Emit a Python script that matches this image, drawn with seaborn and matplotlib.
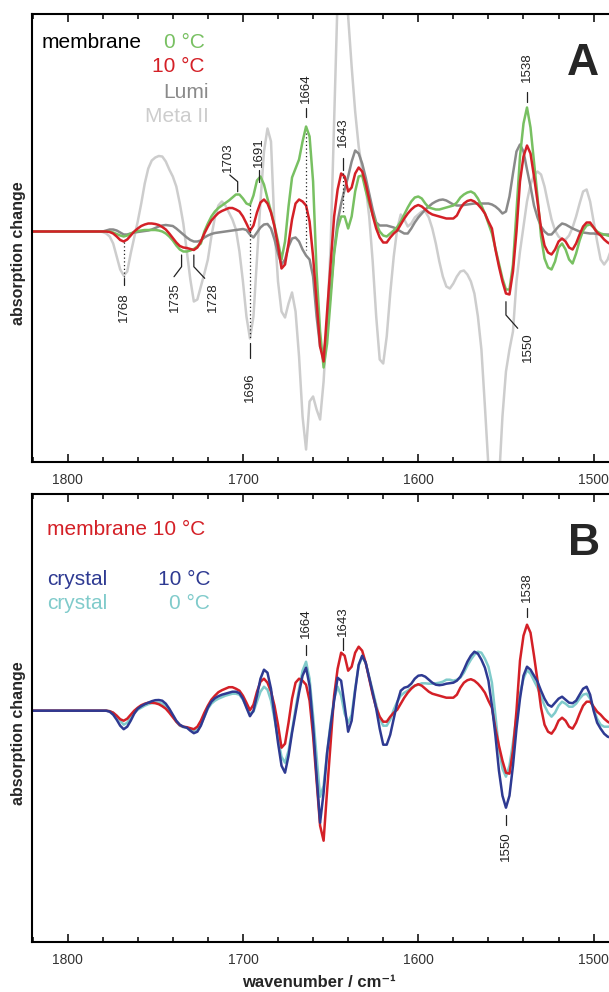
import numpy as np
import pandas as pd
import seaborn as sns
import matplotlib
matplotlib.use("Agg")
import matplotlib.pyplot as plt
from matplotlib.ticker import MultipleLocator

# wavenumber grid (cm-1), one value every 2 cm-1
wavenumber = np.arange(1820, 1489, -2)

membrane_10C = [
    0, 0, 0, 0, 0, 0, 0, 0, 0, 0,
    0, 0, 0, 0, 0, 0, 0, 0, 0, 0,
    0, 0, -0.5, -2, -5, -8.5, -10, -8, -4, 0,
    3, 5.5, 7, 8, 8, 7.5, 6.5, 4.5, 2, -2,
    -6.5, -11, -14.5, -16, -16.5, -17.5, -18.5, -16, -10, -2,
    5, 11, 15, 18.5, 20.5, 22, 23.5, 23.5, 22, 20,
    15, 8, 0.5, 6, 19, 29, 32, 28, 19, 5,
    -14, -37, -33, -12, 12, 28, 32, 30, 26, 10,
    -25, -70, -115, -130, -80, -32, 15, 42, 58, 55,
    40, 44, 58, 64, 60, 48, 32, 16, 3, -6,
    -11, -11, -6, -2, 1, 7, 13, 18, 22, 25,
    26.5, 25, 22, 19, 17, 16, 15, 14, 13, 13,
    13, 16, 23, 28, 30.5, 31.5, 30, 27, 23, 18,
    10, 3, -18, -35, -50, -62, -63, -40, 0, 50,
    75, 86, 78, 55, 30, 3, -14, -21, -23, -18,
    -10, -7, -10, -16, -18, -12, -3, 5, 9, 9,
    4, -1, -4, -8, -11, -13,
]

membrane_0C = [
    0, 0, 0, 0, 0, 0, 0, 0, 0, 0,
    0, 0, 0, 0, 0, 0, 0, 0, 0, 0,
    0, 0, 0, -1, -2.5, -4, -5, -4, -2, -0.5,
    0.5, 1, 1.5, 1.5, 1.5, 1.5, 1, 0, -2, -5,
    -9, -14, -18, -20, -20, -19, -17.5, -15, -12, 0,
    8, 15, 20, 23.5, 26, 28.5, 31, 34, 37, 37,
    33, 28, 26.5, 36, 51, 55, 47, 33, 20, 6,
    -10, -28, -10, 25, 54, 63, 72, 90, 105, 95,
    50, -40, -100, -136, -112, -68, -22, 3, 15, 15,
    3, 15, 40, 55, 56, 41, 28, 17, 8, 0,
    -4, -5, -2, 1, 4.5, 10, 17, 24, 30, 34,
    35, 33, 28, 24, 23, 22, 22, 23, 24, 25,
    26, 29, 34, 37, 39, 40, 38, 33, 26, 18,
    8, -2, -17, -32, -47, -58, -58, -33, 20, 75,
    108, 124, 104, 70, 35, -5, -27, -36, -38, -30,
    -16, -12, -18, -28, -32, -22, -9, 1, 6, 7,
    4, 0, -2, -3, -4, -5,
]

lumi = [
    0, 0, 0, 0, 0, 0, 0, 0, 0, 0,
    0, 0, 0, 0, 0, 0, 0, 0, 0, 0,
    0, 1, 2, 2, 1, -1, -3, -3, -2, -1,
    -0.5, 0, 0.5, 1, 2, 3.5, 5, 6, 6.5, 6,
    5.5, 3, 0, -3, -6, -8.5, -10, -10, -9, -6,
    -4, -2.5, -1.5, -1, -0.5, 0, 0.5, 1, 1.5, 2,
    2.5, 1.5, -3, -6, -1, 4, 7, 7.5, 3, -8,
    -22, -33, -28, -15, -7, -6, -10, -18, -24, -28,
    -45, -85, -115, -122, -100, -60, -20, 10, 28, 42,
    55, 70, 81, 78, 68, 54, 38, 22, 9, 6,
    6, 6, 5, 4, 2, 0, -2, -2, 3, 9,
    14, 18, 22, 25, 28, 30, 31.5, 32, 31, 29,
    27, 26, 26, 26.5, 27, 27.5, 28, 28, 28, 28,
    28, 27, 25, 22, 18, 20, 35, 58, 80, 87,
    80, 62, 45, 26, 14, 5, 0, -3, -3, 1,
    5, 8, 7, 5, 3, 1.5, 0, -1, -1.5, -2,
    -2, -2.5, -3, -3, -3, -3,
]

meta_ii = [
    0, 0, 0, 0, 0, 0, 0, 0, 0, 0,
    0, 0, 0, 0, 0, 0, 0, 0, 0, 0,
    -0.5, -2, -5, -12, -25, -38, -44, -40, -22, -6,
    10, 28, 48, 63, 71, 74, 75.5, 75, 70, 62,
    55, 45, 28, 8, -20, -48, -70, -68, -55, -42,
    -28, -5, 14, 26, 30, 26, 19, 12, 2, -20,
    -50, -85, -107, -85, -28, 30, 80, 103, 90, 5,
    -50, -80, -86, -72, -61, -80, -125, -185, -218, -170,
    -165, -178, -188, -150, -90, -15, 110, 235, 270, 255,
    215, 165, 120, 85, 62, 45, 15, -30, -85, -128,
    -132, -105, -62, -25, 3, 17, 12, 5, 8, 14,
    17, 20, 20, 14, 3, -12, -30, -45, -55, -57,
    -52, -45, -40, -39, -43, -50, -62, -85, -118, -175,
    -235, -265, -275, -250, -185, -140, -118, -100, -50, -20,
    5, 30, 47, 56, 60, 57, 45, 28, 12, 1,
    -5, -8, -8, -4, 4, 15, 28, 40, 42, 30,
    10, -10, -28, -33, -28, -18,
]

crystal_10C = [
    0, 0, 0, 0, 0, 0, 0, 0, 0, 0,
    0, 0, 0, 0, 0, 0, 0, 0, 0, 0,
    0, 0, -1, -4, -9, -15, -18.5, -16, -10, -3,
    2, 4.5, 6.5, 8, 9.5, 10.5, 10.7, 10, 7, 2,
    -4, -10, -14, -16, -17, -20, -22.5, -21, -15, -6,
    3, 9, 12.5, 14.5, 16, 17, 18, 19, 19, 17.5,
    12, 3, -5.5, 0, 15, 32, 41, 38, 22, -5,
    -32, -55, -62, -45, -22, -2, 18, 35, 43, 25,
    -15, -65, -112, -82, -42, -15, 10, 33, 30, 5,
    -21, -10, 20, 46, 55, 48, 33, 18, 2, -18,
    -34, -34, -24, -8, 8, 20, 23, 24, 27, 32,
    35, 35.5, 34, 31, 28, 26, 25.5, 26, 27, 27.5,
    28, 30, 34, 41, 49, 55, 59, 57, 51, 43,
    30, 5, -25, -60, -85, -97, -85, -55, -18, 12,
    35, 44, 41, 35, 29, 20, 12, 6, 4, 8,
    12, 14, 11, 8, 7.5, 10, 16, 22, 24, 16,
    0, -12, -18, -23, -26, -27,
]

crystal_0C = [
    0, 0, 0, 0, 0, 0, 0, 0, 0, 0,
    0, 0, 0, 0, 0, 0, 0, 0, 0, 0,
    0, 0, -0.5, -2, -5, -10, -14, -12, -7, -2,
    1, 3, 5, 6.5, 7.5, 8, 8, 7, 4, 0,
    -5, -11, -15, -16.5, -17, -18.5, -20, -19, -14, -6,
    2, 7, 10, 12, 13.5, 15, 16, 17, 17, 16,
    11, 4, -3, -1, 9, 19, 24, 21, 10, -8,
    -28, -46, -52, -40, -20, 2, 22, 40, 49, 32,
    -5, -45, -86, -75, -42, -12, 12, 24, 15, -3,
    -12, -4, 22, 45, 54, 48, 34, 20, 6, -8,
    -15, -15, -9, 1, 9, 15, 18, 20, 23, 25,
    26, 27.4, 27.4, 27, 27, 27.4, 28, 29, 31, 31,
    30, 31, 33, 38, 45, 51, 56, 59, 58, 52,
    44, 28, -5, -38, -58, -66, -55, -32, -6, 17,
    32, 40.5, 37, 30, 23, 14, 5, -2, -6, -2,
    5, 9, 7, 4, 4, 7, 12, 16, 17, 12,
    2, -8, -14, -16, -16, -16,
]

spectra = pd.DataFrame({
    "wavenumber": wavenumber,
    "membrane 10 C": membrane_10C,
    "membrane 0 C": membrane_0C,
    "Lumi": lumi,
    "Meta II": meta_ii,
    "crystal 10 C": crystal_10C,
    "crystal 0 C": crystal_0C,
})

colors = {
    "membrane 10 C": "#d42027",
    "membrane 0 C": "#78c062",
    "Lumi": "#8a8a8a",
    "Meta II": "#cdcdcd",
    "crystal 10 C": "#2e3a92",
    "crystal 0 C": "#80cbcb",
}

sns.set_style("ticks")
plt.rcParams["font.family"] = ["Liberation Sans", "DejaVu Sans"]

W, H = 609, 992
fig = plt.figure(figsize=(W / 100, H / 100), dpi=100)


def box(top, bottom):
    return [32 / W, 1 - bottom / H, 596.7 / W, (bottom - top) / H]


axA = fig.add_axes(box(14, 462))
axB = fig.add_axes(box(494, 942))

for name in ["Meta II", "Lumi", "membrane 0 C", "membrane 10 C"]:
    sns.lineplot(data=spectra, x="wavenumber", y=name, ax=axA,
                 color=colors[name], lw=1.8)
for name in ["crystal 0 C", "membrane 10 C", "crystal 10 C"]:
    sns.lineplot(data=spectra, x="wavenumber", y=name, ax=axB,
                 color=colors[name], lw=1.8)

axA.set_ylim(-230.5, 217.5)
axB.set_ylim(-231.3, 216.7)
for ax in (axA, axB):
    ax.set_xlim(1820.3, 1480)
    ax.set_xlabel("")
    ax.set_ylabel("")
    ax.set_yticks([])
    ax.xaxis.set_major_locator(MultipleLocator(100))
    ax.xaxis.set_minor_locator(MultipleLocator(20))
    ax.tick_params(axis="x", which="both", direction="in", top=True,
                   bottom=True, width=1.1, color="black", labelsize=10,
                   labelcolor="#333333", pad=8)
    ax.tick_params(axis="x", which="major", length=6)
    ax.tick_params(axis="x", which="minor", length=3.5)
    for s in ax.spines.values():
        s.set_linewidth(1.5)
        s.set_color("black")
        s.set_visible(True)

ink = "#222222"


def num(ax, wn, y, s, va):
    ax.text(wn, y, s, rotation=90, ha="center", va=va, fontsize=9.5, color=ink)


def seg(ax, xs, ys, dotted=False):
    if dotted:
        ax.plot(xs, ys, color=ink, lw=0.9, ls=(0, (1, 2)))
    else:
        ax.plot(xs, ys, color=ink, lw=0.9)


# panel A band labels
seg(axA, [1768, 1768], [-10, -45], dotted=True)
seg(axA, [1768, 1768], [-46.5, -53.5])
num(axA, 1768, -60.5, "1768", "top")
seg(axA, [1735, 1735, 1739.3], [-23.5, -35.2, -45.2])
num(axA, 1738.7, -50.5, "1735", "top")
seg(axA, [1728, 1728, 1721.8], [-23.5, -35.2, -46.8])
num(axA, 1717.2, -50.5, "1728", "top")
seg(axA, [1707.5, 1703, 1703], [56.5, 49.8, 39.8])
num(axA, 1708.5, 59.5, "1703", "bottom")
seg(axA, [1691, 1691], [61.5, 49.5])
num(axA, 1691, 64.5, "1691", "bottom")
seg(axA, [1696, 1696], [26.5, -108.5], dotted=True)
seg(axA, [1696, 1696], [-111.5, -126.5])
num(axA, 1696, -140.5, "1696", "top")
seg(axA, [1664, 1664], [123.5, 114.5])
seg(axA, [1664, 1664], [98.5, -18.5], dotted=True)
num(axA, 1664, 128.5, "1664", "bottom")
seg(axA, [1643, 1643], [73.5, 61.5])
seg(axA, [1643, 1643], [58.5, 18.5], dotted=True)
num(axA, 1643, 84.5, "1643", "bottom")
seg(axA, [1538, 1538], [139.5, 129.5])
num(axA, 1538, 149.5, "1538", "bottom")
seg(axA, [1550, 1550, 1543.3], [-70.2, -83.5, -96.8])
num(axA, 1537.5, -100.5, "1550", "top")

# panel B band labels
seg(axB, [1664, 1664], [65.7, 55.7])
num(axB, 1664, 72.7, "1664", "bottom")
seg(axB, [1643, 1643], [72.7, 60.7])
num(axB, 1643, 74.7, "1643", "bottom")
seg(axB, [1538, 1538], [102.7, 93.7])
num(axB, 1538, 108.7, "1538", "bottom")
seg(axB, [1550, 1550], [-104.3, -114.3])
num(axB, 1550, -120.5, "1550", "top")


def ftext(x, y, s, **kw):
    fig.text(x / W, 1 - y / H, s, **kw)


# legends as coloured text
ftext(42, 48, "membrane", ha="left", va="baseline", fontsize=15, color="black")
ftext(205, 48, "0 °C", ha="right", va="baseline", fontsize=15, color=colors["membrane 0 C"])
ftext(205, 72.5, "10 °C", ha="right", va="baseline", fontsize=15, color=colors["membrane 10 C"])
ftext(209, 97.5, "Lumi", ha="right", va="baseline", fontsize=15, color=colors["Lumi"])
ftext(209, 122.5, "Meta II", ha="right", va="baseline", fontsize=15, color=colors["Meta II"])

ftext(47, 535, "membrane 10 °C", ha="left", va="baseline", fontsize=15, color=colors["membrane 10 C"])
ftext(47, 585, "crystal", ha="left", va="baseline", fontsize=15, color=colors["crystal 10 C"])
ftext(210, 585, "10 °C", ha="right", va="baseline", fontsize=15, color=colors["crystal 10 C"])
ftext(47, 609, "crystal", ha="left", va="baseline", fontsize=15, color=colors["crystal 0 C"])
ftext(210, 609, "0 °C", ha="right", va="baseline", fontsize=15, color=colors["crystal 0 C"])

ftext(567, 75, "A", ha="left", va="baseline", fontsize=32, weight="bold")
ftext(568, 555, "B", ha="left", va="baseline", fontsize=32, weight="bold")

ftext(19, 253.5, "absorption change", rotation=90, ha="center", va="center",
      fontsize=11.5, weight="bold")
ftext(19, 733.5, "absorption change", rotation=90, ha="center", va="center",
      fontsize=11.5, weight="bold")
ftext(319, 987, "wavenumber / cm⁻¹", ha="center", va="baseline",
      fontsize=12, weight="bold")

fig.savefig("out.png", dpi=100)
